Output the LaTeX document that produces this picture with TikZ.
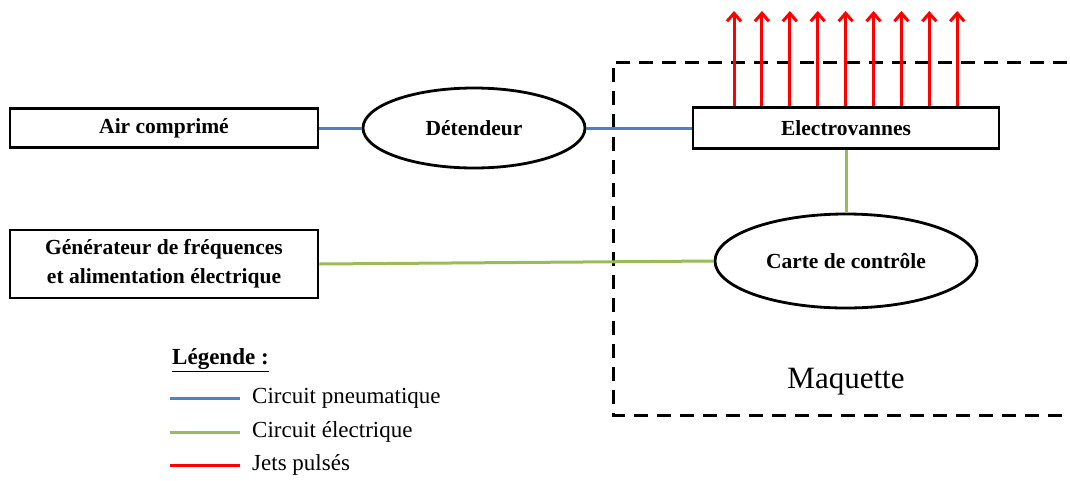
\documentclass[tikz,border=0pt]{standalone}
\usepackage{fontspec}
\setmainfont{Liberation Serif}
\usetikzlibrary{shapes.geometric, arrows.meta, positioning}
\definecolor{pneublue}{HTML}{4F81BD}
\definecolor{elecgreen}{HTML}{9BBB59}
\definecolor{jetred}{HTML}{FF0000}

\begin{document}
\begin{tikzpicture}[x=1pt, y=-1pt,
    box/.style={draw=black, line width=2.8pt, minimum width=308pt, minimum height=39pt, inner sep=0pt, align=center, font=\fontsize{21.5}{29}\selectfont\bfseries},
    oval/.style={draw=black, ellipse, line width=2.8pt, inner sep=0pt, font=\fontsize{21.5}{29}\selectfont\bfseries},
    pneu/.style={draw=pneublue, line width=3pt},
    elec/.style={draw=elecgreen, line width=3pt},
    jet/.style={draw=jetred, line width=3pt, -{Straight Barb[length=8pt, width=14pt, line width=3pt]}},
    legtext/.style={anchor=west, inner sep=0pt, font=\fontsize{23}{27}\selectfont}]
\useasboundingbox (0,0) rectangle (1070,480);

% blocs
\node[box] (air) at (164,128) {Air comprim\'e};
\node[oval, minimum width=222pt, minimum height=80pt] (det) at (474,128) {D\'etendeur};
\node[box, minimum width=306pt, minimum height=41pt] (ev) at (846,128) {Electrovannes};
\node[box, minimum height=68pt] (gen) at (164,264) {G\'en\'erateur de fr\'equences\\et alimentation \'electrique};
\node[oval, minimum width=262pt, minimum height=94pt] (cc) at (846,261) {Carte de contr\^ole};

% maquette
\draw[line width=3pt, dash pattern=on 14pt off 9pt] (1090,62) -- (613,62) -- (613,415) -- (1090,415);
\node[font=\fontsize{31}{36}\selectfont] (maq) at (846,382) {Maquette};

% liaisons
\draw[pneu] (air.east) -- (det.west);
\draw[pneu] (det.east) -- (ev.west);
\draw[elec] (ev.south) -- (cc.north);
\draw[elec] (gen.east) -- (cc.west);

% jets
\foreach \i in {0,...,8} {
  \coordinate (jet\i) at (734+27.9*\i,11);
  \draw[jet] (jet\i |- ev.north) -- (jet\i);
}

% legende
\node[anchor=west, inner sep=0pt, font=\fontsize{23}{27}\selectfont\bfseries] (leg) at (172,360) {\underline{L\'egende :}};
\coordinate (lpa) at (170,398); \coordinate (lpb) at (240,398);
\coordinate (lea) at (170,432); \coordinate (leb) at (240,432);
\coordinate (lja) at (170,465); \coordinate (ljb) at (240,465);
\node[legtext] (lp) at (252,398) {Circuit pneumatique};
\node[legtext] (le) at (252,432) {Circuit \'electrique};
\node[legtext] (lj) at (252,465) {Jets puls\'es};
\draw[pneu] (lpa) -- (lpb);
\draw[elec] (lea) -- (leb);
\draw[draw=jetred, line width=3pt] (lja) -- (ljb);
\end{tikzpicture}
\end{document}
